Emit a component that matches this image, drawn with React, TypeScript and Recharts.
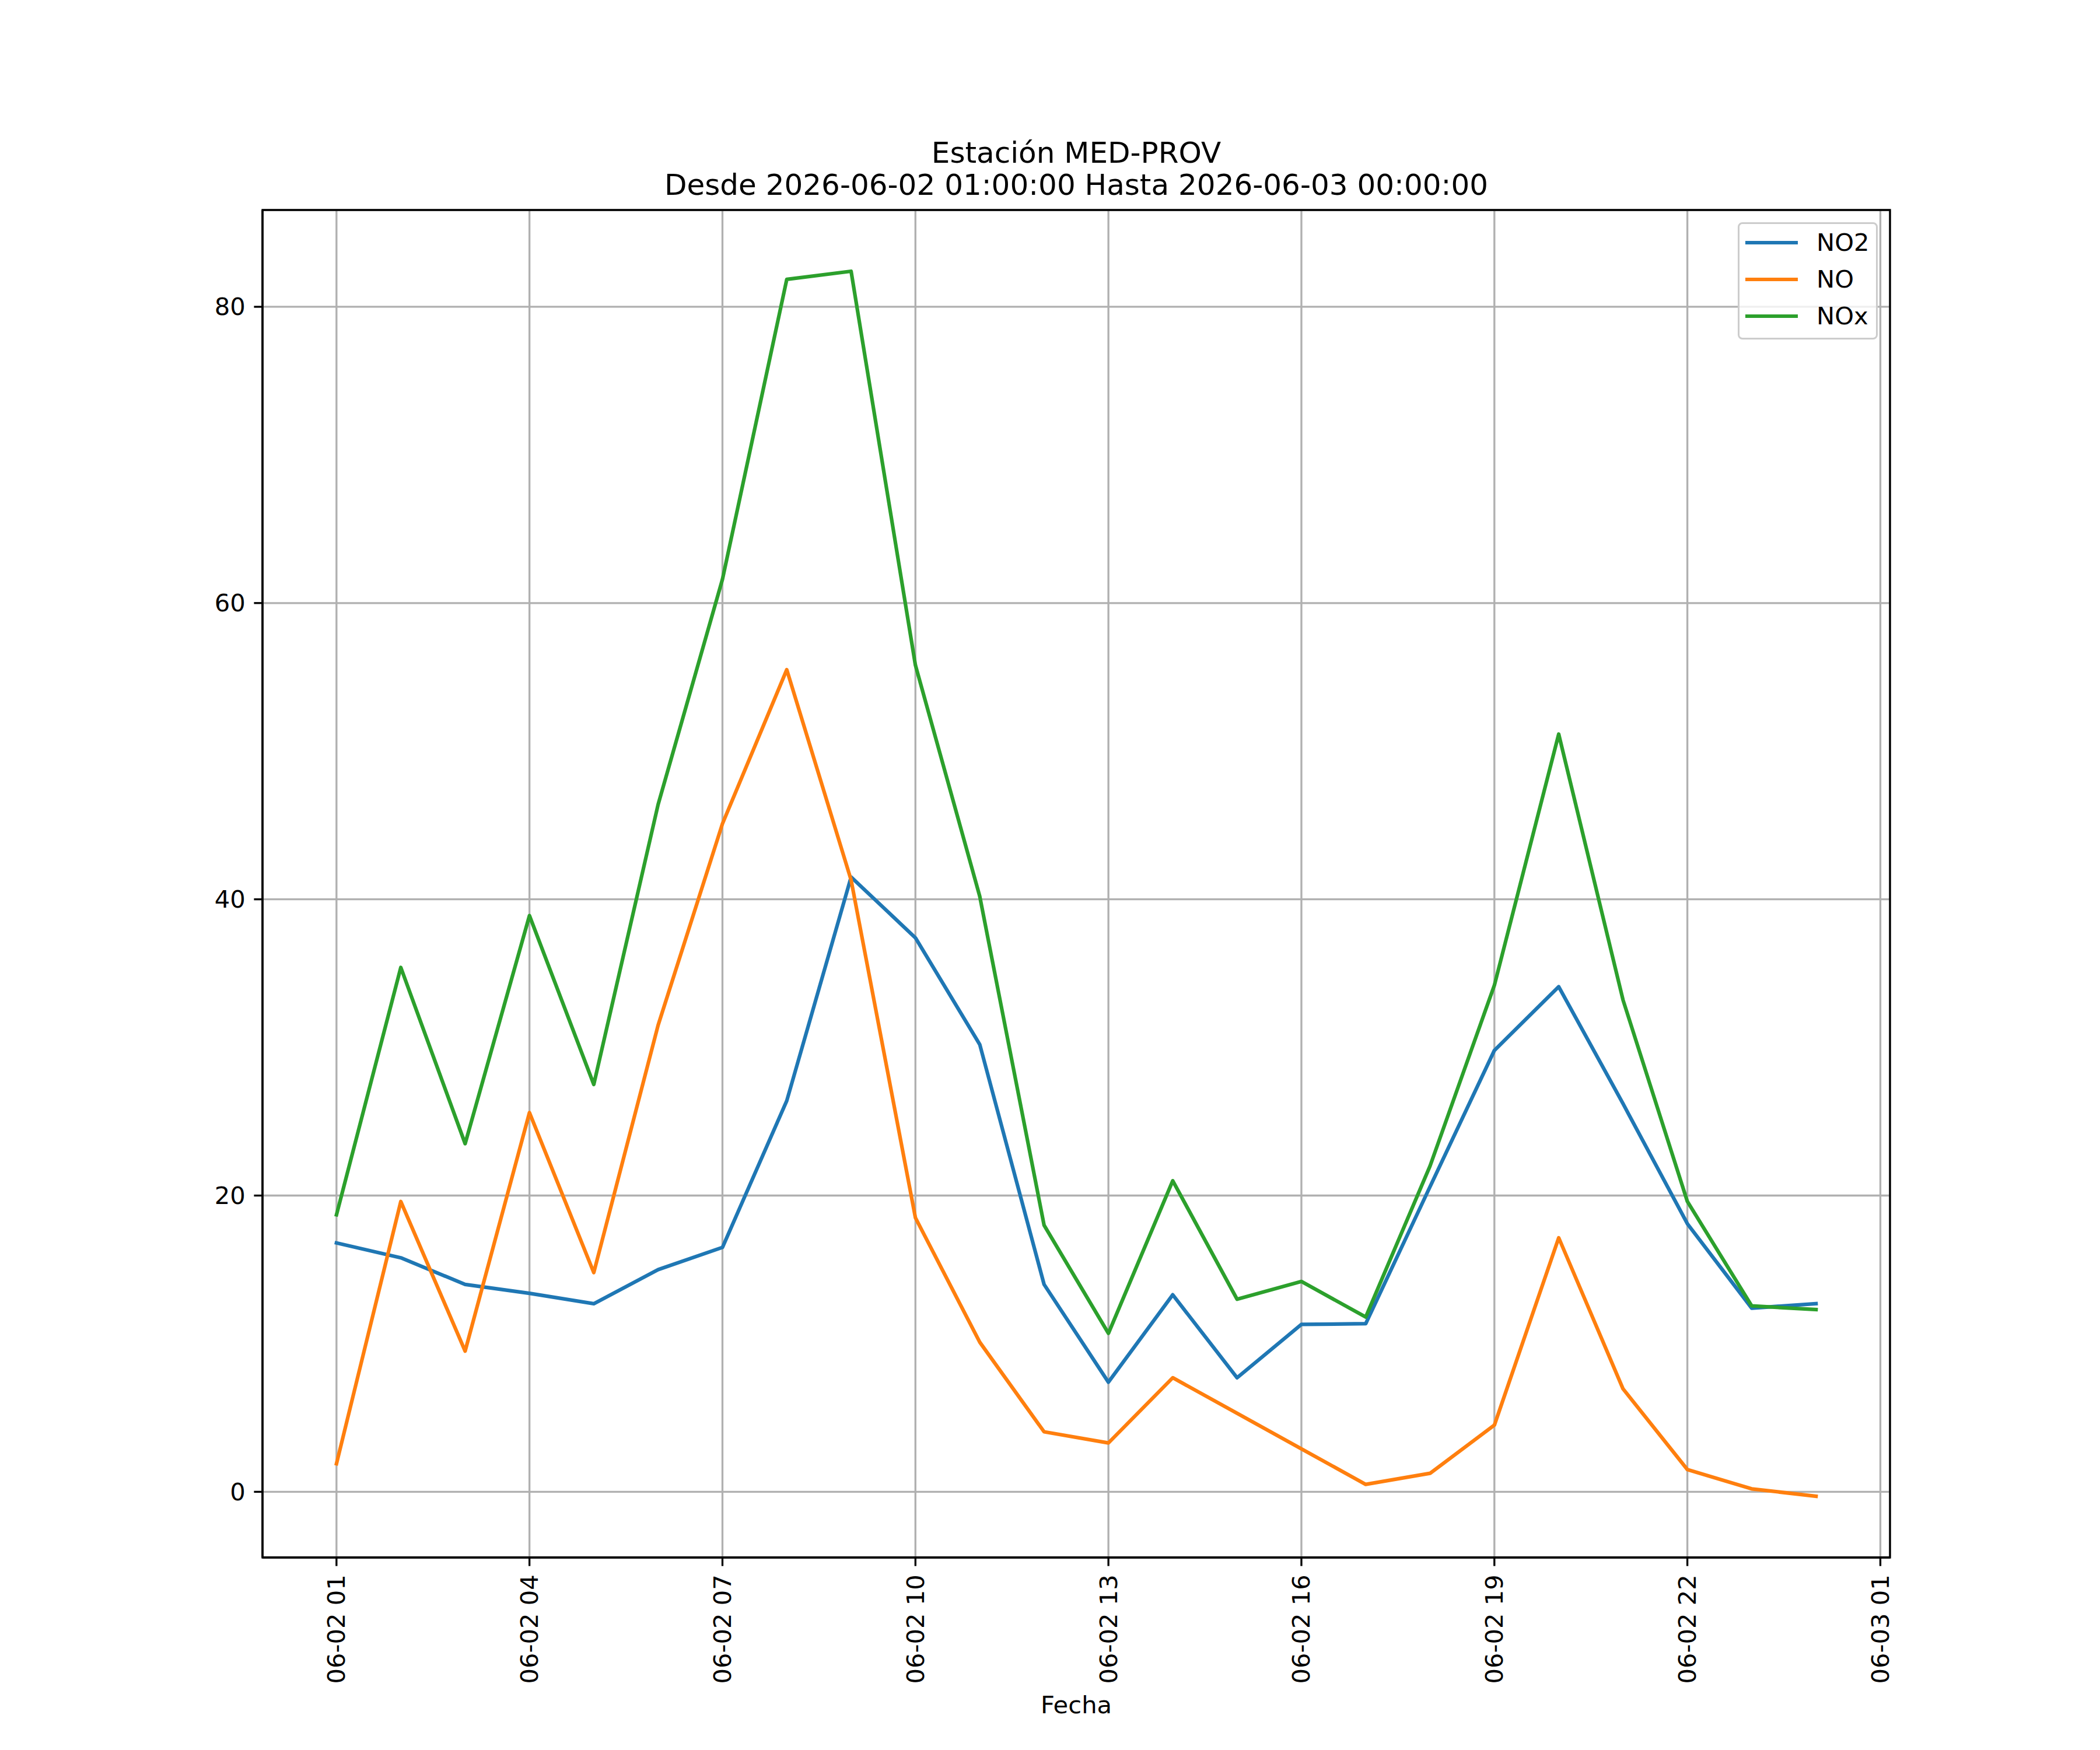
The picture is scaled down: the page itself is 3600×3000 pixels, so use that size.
import React from "react";
import { LineChart, Line, XAxis, YAxis, CartesianGrid, ReferenceArea } from "recharts";

const hours = [1, 2, 3, 4, 5, 6, 7, 8, 9, 10, 11, 12, 13, 14, 15, 16, 17, 18, 19, 20, 21, 22, 23, 24];
const no2 = [16.8, 15.8, 14.0, 13.4, 12.7, 15.0, 16.5, 26.4, 41.5, 37.4, 30.2, 14.0, 7.4, 13.3, 7.7, 11.3, 11.35, 20.6, 29.8, 34.1, 26.2, 18.1, 12.4, 12.7];
const no = [1.9, 19.6, 9.5, 25.6, 14.8, 31.5, 45.1, 55.5, 41.3, 18.5, 10.1, 4.05, 3.3, 7.7, 5.3, 2.9, 0.5, 1.25, 4.5, 17.15, 6.95, 1.5, 0.2, -0.3];
const nox = [18.7, 35.4, 23.5, 38.9, 27.5, 46.4, 61.6, 81.85, 82.4, 55.8, 40.2, 18.0, 10.7, 21.0, 13.0, 14.2, 11.8, 22.0, 34.2, 51.15, 33.2, 19.6, 12.55, 12.3];

const xTicks = [1, 4, 7, 10, 13, 16, 19, 22, 25];
const yTicks = [0, 20, 40, 60, 80];

const seriesNames = ["NO2", "NO", "NOx"];
const seriesKeys = ["no2", "no", "nox"];
const seriesColors = ["#1f77b4", "#ff7f0e", "#2ca02c"];

const titleLines = ["Estación MED-PROV", "Desde 2026-06-02 01:00:00 Hasta 2026-06-03 00:00:00"];
const xLabel = "Fecha";

const data = hours.map((h, i) => ({ h, no2: no2[i], no: no[i], nox: nox[i] }));

const allVals = [...no2, ...no, ...nox];
const yMin = Math.min(...allVals);
const yMax = Math.max(...allVals);
const yPad = (yMax - yMin) * 0.05;
const yDomain: [number, number] = [yMin - yPad, yMax + yPad];
const xPad = (hours[hours.length - 1] - hours[0]) * 0.05;
const xDomain: [number, number] = [hours[0] - xPad, hours[hours.length - 1] + xPad];

const FONT = "'DejaVu Sans', sans-serif";
const FS = 41.67;
const LW = 3.33;

function fmtHour(h: number) {
  const day = h >= 24 ? "06-03" : "06-02";
  const hh = h % 24;
  return `${day} ${hh < 10 ? "0" + hh : hh}`;
}

const XTick = (props: any) => {
  const { x, y, payload } = props;
  return (
    <text
      x={x}
      y={y}
      transform={`rotate(-90, ${x}, ${y})`}
      textAnchor="end"
      dominantBaseline="central"
      fontFamily={FONT}
      fontSize={FS}
      fill="#000"
    >
      {fmtHour(payload.value)}
    </text>
  );
};

const YTick = (props: any) => {
  const { x, y, payload } = props;
  return (
    <text x={x} y={y} textAnchor="end" dominantBaseline="central" fontFamily={FONT} fontSize={FS} fill="#000">
      {payload.value}
    </text>
  );
};

export default function App() {
  return (
    <div style={{ position: "absolute", left: 0, top: 0, width: 3600, height: 3000, background: "#fff" }}>
      <LineChart width={3600} height={3000} data={data} margin={{ top: 360, right: 360, bottom: 0, left: 0 }}>
        <CartesianGrid stroke="#b0b0b0" strokeWidth={LW} />
        <XAxis
          dataKey="h"
          type="number"
          domain={xDomain}
          ticks={xTicks}
          allowDataOverflow
          height={330}
          tickSize={14.6}
          tickMargin={14.6}
          tick={<XTick />}
          tickLine={{ stroke: "#000", strokeWidth: LW }}
          axisLine={{ stroke: "#000", strokeWidth: LW }}
          interval={0}
        />
        <YAxis
          type="number"
          domain={yDomain}
          ticks={yTicks}
          allowDataOverflow
          width={450}
          tickSize={14.6}
          tickMargin={14.6}
          tick={<YTick />}
          tickLine={{ stroke: "#000", strokeWidth: LW }}
          axisLine={{ stroke: "#000", strokeWidth: LW }}
          interval={0}
        />
        {seriesKeys.map((k, i) => (
          <Line
            key={k}
            type="linear"
            dataKey={k}
            name={seriesNames[i]}
            stroke={seriesColors[i]}
            strokeWidth={6.25}
            strokeLinejoin="round"
            strokeLinecap="square"
            dot={false}
            activeDot={false}
            isAnimationActive={false}
          />
        ))}
        <ReferenceArea
          x1={xDomain[0]}
          x2={xDomain[1]}
          y1={yDomain[0]}
          y2={yDomain[1]}
          fill="none"
          fillOpacity={0}
          stroke="#000"
          strokeWidth={LW}
          ifOverflow="visible"
        />
      </LineChart>

      {/* Title */}
      <div
        style={{
          position: "absolute",
          left: 845,
          width: 2000,
          top: 235,
          textAlign: "center",
          fontFamily: FONT,
          fontSize: 50,
          lineHeight: "55px",
          color: "#000",
          whiteSpace: "nowrap",
        }}
      >
        {titleLines.map((t) => (
          <div key={t}>{t}</div>
        ))}
      </div>

      {/* X label */}
      <div
        style={{
          position: "absolute",
          left: 1345,
          width: 1000,
          top: 2902,
          textAlign: "center",
          fontFamily: FONT,
          fontSize: FS,
          lineHeight: `${FS}px`,
          color: "#000",
        }}
      >
        {xLabel}
      </div>

      {/* Legend */}
      <div
        style={{
          position: "absolute",
          left: 2979,
          top: 381,
          width: 240,
          height: 201,
          boxSizing: "border-box",
          border: `${LW}px solid #cccccc`,
          borderRadius: 8,
          background: "rgba(255,255,255,0.8)",
        }}
      >
        {seriesNames.map((n, i) => (
          <div key={n} style={{ position: "absolute", left: 0, top: 32 + i * 63 - 32, height: 64, width: 236 }}>
            <div
              style={{
                position: "absolute",
                left: 10,
                top: 32 - 3.1,
                width: 90,
                height: 6.25,
                background: seriesColors[i],
              }}
            />
            <div
              style={{
                position: "absolute",
                left: 132,
                top: 0,
                height: 64,
                lineHeight: "64px",
                fontFamily: FONT,
                fontSize: FS,
                color: "#000",
                whiteSpace: "nowrap",
              }}
            >
              {n}
            </div>
          </div>
        ))}
      </div>
    </div>
  );
}
